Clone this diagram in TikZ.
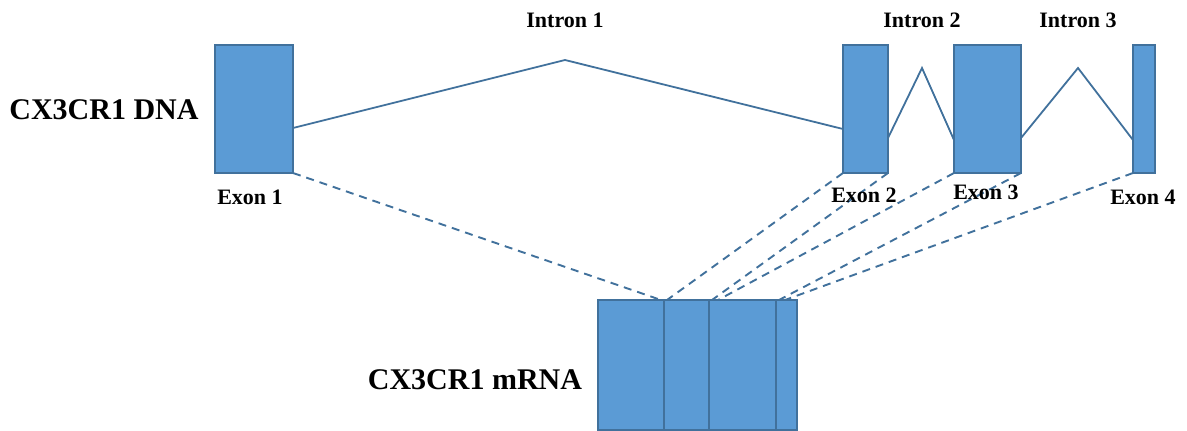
\documentclass[tikz,border=0pt]{standalone}
\usepackage{fontspec}
\setmainfont{Liberation Serif}
\definecolor{exfill}{HTML}{5B9BD5}
\definecolor{exline}{HTML}{41719C}
\begin{document}
\begin{tikzpicture}[x=1pt,y=-1pt,
  exonbox/.style={draw=exline,fill=exfill,line width=1.6pt},
  intronline/.style={draw=exline,line width=1.8pt},
  dashline/.style={draw=exline,line width=1.9pt,dash pattern=on 8pt off 6pt},
  lbl/.style={font=\fontsize{22}{25}\selectfont\bfseries,inner sep=0pt},
  biglbl/.style={font=\fontsize{30}{34}\selectfont\bfseries,inner sep=0pt}]
\useasboundingbox (0,0) rectangle (1187,431);
% DNA exons
\draw[exonbox] (215,45) rectangle (293,173);
\draw[exonbox] (843,45) rectangle (888,173);
\draw[exonbox] (954,45) rectangle (1021,173);
\draw[exonbox] (1133,45) rectangle (1155,173);
\coordinate (e1tr) at (293,128);
\coordinate (i1) at (565,60);
\coordinate (e2tl) at (843,129);
\coordinate (e2r) at (888,138);
\coordinate (i2) at (922,68);
\coordinate (e3l) at (954,140);
\coordinate (e3r) at (1021,138);
\coordinate (i3) at (1078,68);
\coordinate (e4l) at (1133,140);
\draw[intronline] (e1tr) -- (i1) -- (e2tl);
\draw[intronline] (e2r) -- (i2) -- (e3l);
\draw[intronline] (e3r) -- (i3) -- (e4l);
% mRNA
\draw[exonbox] (598,300) rectangle (664,430);
\draw[exonbox] (664,300) rectangle (709,430);
\draw[exonbox] (709,300) rectangle (776,430);
\draw[exonbox] (776,300) rectangle (797,430);
% dashed
\coordinate (e1br) at (293,173);
\coordinate (e2bl) at (843,173);
\coordinate (e2br) at (888,173);
\coordinate (e3bl) at (954,173);
\coordinate (e3br) at (1021,173);
\coordinate (e4bl) at (1133,173);
\coordinate (m1) at (661,300);
\coordinate (m2) at (667,300);
\coordinate (m3) at (712,300);
\coordinate (m4) at (718,300);
\coordinate (m5) at (779,300);
\coordinate (m6) at (785,300);
\draw[dashline] (e1br) -- (m1);
\draw[dashline] (e2bl) -- (m2);
\draw[dashline] (e2br) -- (m3);
\draw[dashline] (e3bl) -- (m4);
\draw[dashline] (e3br) -- (m5);
\draw[dashline] (e4bl) -- (m6);
% labels
\node[biglbl] (dna) at (104,110) {CX3CR1 DNA};
\node[biglbl] (rna) at (475,380) {CX3CR1 mRNA};
\node[lbl] (in1) at (565,20) {Intron 1};
\node[lbl] (in2) at (922,20) {Intron 2};
\node[lbl] (in3) at (1078,20) {Intron 3};
\node[lbl] (ex1) at (250,197) {Exon 1};
\node[lbl] (ex2) at (864,195) {Exon 2};
\node[lbl] (ex3) at (986,192) {Exon 3};
\node[lbl] (ex4) at (1143,197) {Exon 4};
\end{tikzpicture}
\end{document}
